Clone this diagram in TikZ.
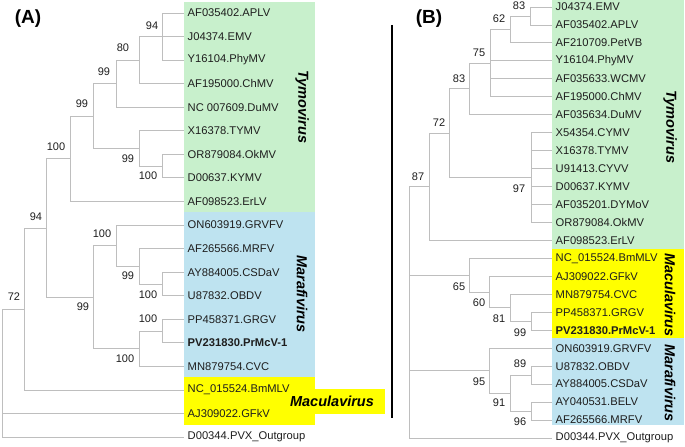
\documentclass[tikz,border=0pt]{standalone}
\usepackage{fontspec}
\setmainfont{Liberation Sans}
\definecolor{tymo}{RGB}{200,240,204}
\definecolor{mara}{RGB}{190,227,240}
\definecolor{macu}{RGB}{255,255,0}
\definecolor{branch}{RGB}{190,190,190}
\definecolor{ink}{RGB}{30,30,30}
\begin{document}
\begin{tikzpicture}[x=1bp,y=-1bp,
  br/.style={draw=branch, line width=0.9bp},
  leaf/.style={anchor=west, inner xsep=3.5bp, inner ysep=0pt, text=ink, font=\fontsize{11.2bp}{13bp}\selectfont},
  bs/.style={inner sep=0pt, text=ink, font=\fontsize{11bp}{13bp}\selectfont},
  grp/.style={inner sep=0pt, text=black, font=\fontsize{14.5bp}{16bp}\selectfont\bfseries\itshape},
  ttl/.style={inner sep=0pt, text=black, font=\fontsize{19bp}{21bp}\selectfont\bfseries}]
\useasboundingbox (0,0) rectangle (685,447);

% ---------- boxes ----------
\fill[tymo] (184,2) rectangle (315,212);
\fill[mara] (184,212) rectangle (315,377);
\fill[macu] (184,377) rectangle (315,425);
\fill[macu] (300,389) rectangle (385,414);
\fill[tymo] (552,0) rectangle (684,249);
\fill[macu] (552,249) rectangle (684,338);
\fill[mara] (552,338) rectangle (684,425);

% ---------- titles and divider ----------
\node[ttl] (tA) at (28,19) {(A)};
\node[ttl] (tB) at (429,19) {(B)};
\draw[black, line width=1.3bp] (392,25) -- (392,418);

% ---------- panel A leaves ----------
\node[leaf] (a0) at (184,13.0) {AF035402.APLV};
\node[leaf] (a1) at (184,36.6) {J04374.EMV};
\node[leaf] (a2) at (184,60.1) {Y16104.PhyMV};
\node[leaf] (a3) at (184,83.7) {AF195000.ChMV};
\node[leaf] (a4) at (184,107.2) {NC 007609.DuMV};
\node[leaf] (a5) at (184,130.8) {X16378.TYMV};
\node[leaf] (a6) at (184,154.4) {OR879084.OkMV};
\node[leaf] (a7) at (184,177.9) {D00637.KYMV};
\node[leaf] (a8) at (184,201.5) {AF098523.ErLV};
\node[leaf] (a9) at (184,225.0) {ON603919.GRVFV};
\node[leaf] (a10) at (184,248.6) {AF265566.MRFV};
\node[leaf] (a11) at (184,272.2) {AY884005.CSDaV};
\node[leaf] (a12) at (184,295.7) {U87832.OBDV};
\node[leaf] (a13) at (184,319.3) {PP458371.GRGV};
\node[leaf] (a14) at (184,342.8) {\bfseries PV231830.PrMcV-1};
\node[leaf] (a15) at (184,366.4) {MN879754.CVC};
\node[leaf] (a16) at (184,390.0) {NC\_015524.BmMLV};
\node[leaf] (a17) at (184,413.5) {AJ309022.GFkV};
\node[leaf] (a18) at (184,437.1) {D00344.PVX\_Outgroup};

% ---------- panel A internal nodes ----------
\coordinate (a94) at (162,36.6);
\coordinate (a80) at (139,60.1);
\coordinate (a99a) at (116,83.7);
\coordinate (a100a) at (162,166.2);
\coordinate (a99b) at (139,148.5);
\coordinate (a99c) at (93,116.1);
\coordinate (a99d) at (70,158.8);
\coordinate (a100b) at (162,284.0);
\coordinate (a99e) at (139,266.3);
\coordinate (a100c) at (116,245.6);
\coordinate (a100d) at (162,331.0);
\coordinate (a100e) at (139,348.7);
\coordinate (a99f) at (93,297.2);
\coordinate (a94b) at (46,228.0);
\coordinate (a72) at (24,309.0);
\coordinate (aroot) at (2,373.0);

\foreach \p/\c in {a94/a0.west, a94/a1.west, a94/a2.west,
  a80/a94, a80/a3.west, a99a/a80, a99a/a4.west,
  a100a/a6.west, a100a/a7.west, a99b/a5.west, a99b/a100a,
  a99c/a99a, a99c/a99b, a99d/a99c, a99d/a8.west,
  a100b/a11.west, a100b/a12.west, a99e/a10.west, a99e/a100b,
  a100c/a9.west, a100c/a99e, a100d/a13.west, a100d/a14.west,
  a100e/a100d, a100e/a15.west, a99f/a100c, a99f/a100e,
  a94b/a99d, a94b/a99f, a72/a94b, a72/a16.west,
  aroot/a72, aroot/a17.west, aroot/a18.west}
  \draw[br] (\p) |- (\c);

% ---------- panel A bootstrap ----------
\node[bs] (la1) at (152,26) {94};
\node[bs] (la2) at (123,48) {80};
\node[bs] (la3) at (104,72) {99};
\node[bs] (la4) at (82,104) {99};
\node[bs] (la5) at (56,147) {100};
\node[bs] (la6) at (128,159) {99};
\node[bs] (la7) at (148,176) {100};
\node[bs] (la8) at (36,217) {94};
\node[bs] (la9) at (14,297) {72};
\node[bs] (la10) at (102,234) {100};
\node[bs] (la11) at (128,276) {99};
\node[bs] (la12) at (148,295) {100};
\node[bs] (la13) at (148,319) {100};
\node[bs] (la14) at (125,359) {100};
\node[bs] (la15) at (83,307) {99};

% ---------- panel A group labels ----------
\node[grp, rotate=-90] (gA1) at (302,107) {Tymovirus};
\node[grp, rotate=-90] (gA2) at (302,294) {Marafivirus};
\node[grp] (gA3) at (332,401) {Maculavirus};

% ---------- panel B leaves ----------
\node[leaf] (b0) at (552,7.0) {J04374.EMV};
\node[leaf] (b1) at (552,25.0) {AF035402.APLV};
\node[leaf] (b2) at (552,42.9) {AF210709.PetVB};
\node[leaf] (b3) at (552,60.9) {Y16104.PhyMV};
\node[leaf] (b4) at (552,78.8) {AF035633.WCMV};
\node[leaf] (b5) at (552,96.8) {AF195000.ChMV};
\node[leaf] (b6) at (552,114.8) {AF035634.DuMV};
\node[leaf] (b7) at (552,132.7) {X54354.CYMV};
\node[leaf] (b8) at (552,150.7) {X16378.TYMV};
\node[leaf] (b9) at (552,168.6) {U91413.CYVV};
\node[leaf] (b10) at (552,186.6) {D00637.KYMV};
\node[leaf] (b11) at (552,204.6) {AF035201.DYMoV};
\node[leaf] (b12) at (552,222.5) {OR879084.OkMV};
\node[leaf] (b13) at (552,240.5) {AF098523.ErLV};
\node[leaf] (b14) at (552,258.4) {NC\_015524.BmMLV};
\node[leaf] (b15) at (552,276.4) {AJ309022.GFkV};
\node[leaf] (b16) at (552,294.4) {MN879754.CVC};
\node[leaf] (b17) at (552,312.3) {PP458371.GRGV};
\node[leaf] (b18) at (552,330.3) {\bfseries PV231830.PrMcV-1};
\node[leaf] (b19) at (552,348.2) {ON603919.GRVFV};
\node[leaf] (b20) at (552,366.2) {U87832.OBDV};
\node[leaf] (b21) at (552,384.1) {AY884005.CSDaV};
\node[leaf] (b22) at (552,402.1) {AY040531.BELV};
\node[leaf] (b23) at (552,420.1) {AF265566.MRFV};
\node[leaf] (b24) at (552,438.0) {D00344.PVX\_Outgroup};

% ---------- panel B internal nodes ----------
\coordinate (b83a) at (530,16.0);
\coordinate (b62) at (510,29.45);
\coordinate (b75) at (490,63.1);
\coordinate (b83b) at (469,88.95);
\coordinate (b97) at (531,177.6);
\coordinate (b72) at (449,133.3);
\coordinate (b87) at (429,186.9);
\coordinate (b99) at (531,321.3);
\coordinate (b81) at (510,307.9);
\coordinate (b60) at (489,292.1);
\coordinate (b65) at (469,275.3);
\coordinate (b89) at (531,375.2);
\coordinate (b96) at (531,411.1);
\coordinate (b91) at (510,393.1);
\coordinate (b95) at (489,370.7);
\coordinate (broot) at (409,300.0);

\foreach \p/\c in {b83a/b0.west, b83a/b1.west, b62/b83a, b62/b2.west,
  b75/b62, b75/b3.west, b75/b4.west, b75/b5.west,
  b83b/b75, b83b/b6.west,
  b97/b7.west, b97/b8.west, b97/b9.west, b97/b10.west, b97/b11.west, b97/b12.west,
  b72/b83b, b72/b97, b87/b72, b87/b13.west,
  b99/b17.west, b99/b18.west, b81/b16.west, b81/b99,
  b60/b15.west, b60/b81, b65/b14.west, b65/b60,
  b89/b20.west, b89/b21.west, b96/b22.west, b96/b23.west,
  b91/b89, b91/b96, b95/b19.west, b95/b91,
  broot/b87, broot/b65, broot/b95, broot/b24.west}
  \draw[br] (\p) |- (\c);

% ---------- panel B bootstrap ----------
\node[bs] (lb1) at (519,5.5) {83};
\node[bs] (lb2) at (499,19) {62};
\node[bs] (lb3) at (479,53) {75};
\node[bs] (lb4) at (459,79) {83};
\node[bs] (lb5) at (439,123) {72};
\node[bs] (lb6) at (418,177) {87};
\node[bs] (lb7) at (519,189) {97};
\node[bs] (lb8) at (459,287) {65};
\node[bs] (lb9) at (479,303) {60};
\node[bs] (lb10) at (499,319) {81};
\node[bs] (lb11) at (520,333) {99};
\node[bs] (lb12) at (479,382) {95};
\node[bs] (lb13) at (499,403) {91};
\node[bs] (lb14) at (520,364) {89};
\node[bs] (lb15) at (520,422) {96};

% ---------- panel B group labels ----------
\node[grp, rotate=-90] (gB1) at (670,127) {Tymovirus};
\node[grp, rotate=-90] (gB2) at (670,295) {Maculavirus};
\node[grp, rotate=-90] (gB3) at (670,383) {Marafivirus};
\end{tikzpicture}
\end{document}
